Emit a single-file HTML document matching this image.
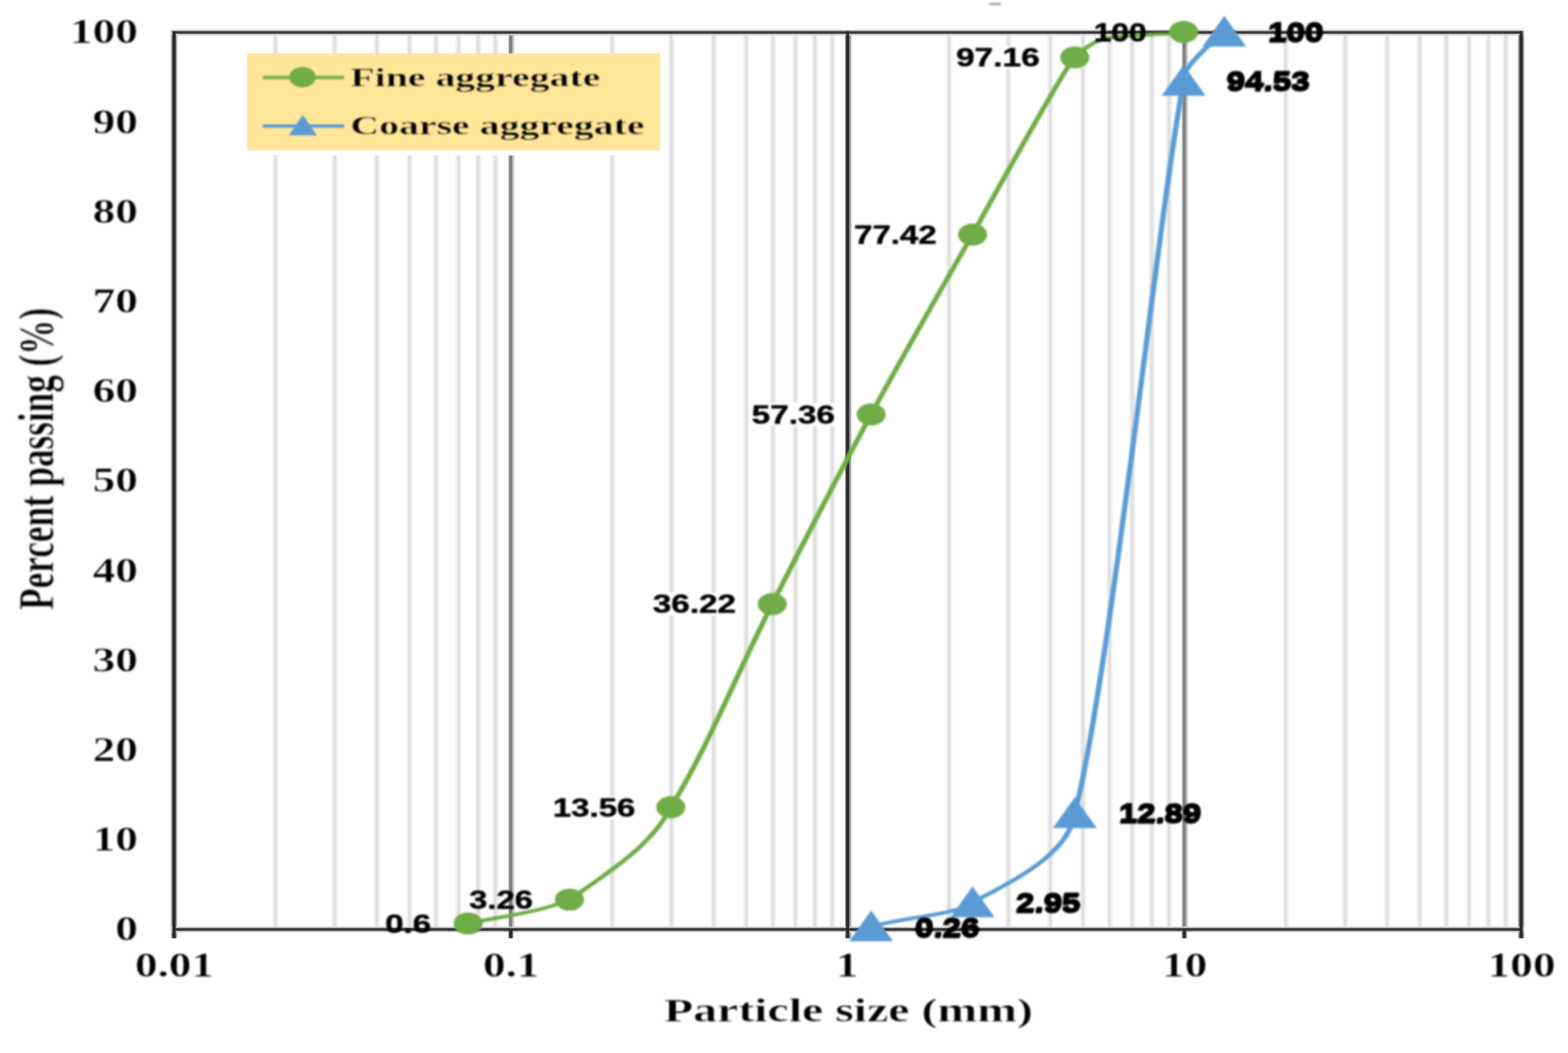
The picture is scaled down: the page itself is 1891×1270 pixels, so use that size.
<!DOCTYPE html>
<html lang="en"><head><meta charset="utf-8"><title>Particle size distribution</title>
<style>
html,body{margin:0;padding:0;background:#fff;}
body{width:1891px;height:1270px;overflow:hidden;position:relative;}
svg{display:block;position:absolute;left:0;top:0;}
.ser{font-family:"Liberation Serif","DejaVu Serif",serif;font-weight:bold;fill:#000;stroke:#fff;stroke-width:0.70px;vector-effect:non-scaling-stroke;}
.leg{stroke:#ffe699;stroke-width:0.8px;}
.san{font-family:"Liberation Sans","DejaVu Sans",sans-serif;font-weight:bold;fill:#000;stroke:#000;stroke-width:0.6px;vector-effect:non-scaling-stroke;}
.dbl{stroke-width:1.0px;}
</style></head><body>
<svg width="1891" height="1270" viewBox="0 0 1891 1270" role="img" aria-label="Particle size distribution chart">
<defs>
<filter id="bg" filterUnits="userSpaceOnUse" x="0" y="0" width="1891" height="1270" color-interpolation-filters="sRGB"><feGaussianBlur stdDeviation="0.55"/></filter>
<filter id="bi" filterUnits="userSpaceOnUse" x="0" y="0" width="1891" height="1270" color-interpolation-filters="sRGB"><feGaussianBlur stdDeviation="1.15"/></filter>
<filter id="bc" filterUnits="userSpaceOnUse" x="0" y="0" width="1891" height="1270" color-interpolation-filters="sRGB"><feGaussianBlur stdDeviation="0.40"/></filter>
<filter id="bd" filterUnits="userSpaceOnUse" x="0" y="0" width="1891" height="1270" color-interpolation-filters="sRGB"><feGaussianBlur stdDeviation="0.80"/></filter>
</defs>
<rect x="0" y="0" width="1891" height="1270" fill="#ffffff"/>
<g filter="url(#bg)">
<line x1="332.2" y1="39.2" x2="332.2" y2="1121.0" stroke="#f2f2f2" stroke-width="7.6"/>
<line x1="403.7" y1="39.2" x2="403.7" y2="1121.0" stroke="#f2f2f2" stroke-width="7.6"/>
<line x1="454.4" y1="39.2" x2="454.4" y2="1121.0" stroke="#f2f2f2" stroke-width="7.6"/>
<line x1="493.8" y1="39.2" x2="493.8" y2="1121.0" stroke="#f2f2f2" stroke-width="7.6"/>
<line x1="525.9" y1="39.2" x2="525.9" y2="1121.0" stroke="#f2f2f2" stroke-width="7.6"/>
<line x1="553.1" y1="39.2" x2="553.1" y2="1121.0" stroke="#f2f2f2" stroke-width="7.6"/>
<line x1="576.7" y1="39.2" x2="576.7" y2="1121.0" stroke="#f2f2f2" stroke-width="7.6"/>
<line x1="597.5" y1="39.2" x2="597.5" y2="1121.0" stroke="#f2f2f2" stroke-width="7.6"/>
<line x1="738.3" y1="39.2" x2="738.3" y2="1121.0" stroke="#f2f2f2" stroke-width="7.6"/>
<line x1="809.8" y1="39.2" x2="809.8" y2="1121.0" stroke="#f2f2f2" stroke-width="7.6"/>
<line x1="860.6" y1="39.2" x2="860.6" y2="1121.0" stroke="#f2f2f2" stroke-width="7.6"/>
<line x1="899.9" y1="39.2" x2="899.9" y2="1121.0" stroke="#f2f2f2" stroke-width="7.6"/>
<line x1="932.1" y1="39.2" x2="932.1" y2="1121.0" stroke="#f2f2f2" stroke-width="7.6"/>
<line x1="959.3" y1="39.2" x2="959.3" y2="1121.0" stroke="#f2f2f2" stroke-width="7.6"/>
<line x1="982.8" y1="39.2" x2="982.8" y2="1121.0" stroke="#f2f2f2" stroke-width="7.6"/>
<line x1="1003.6" y1="39.2" x2="1003.6" y2="1121.0" stroke="#f2f2f2" stroke-width="7.6"/>
<line x1="1144.5" y1="39.2" x2="1144.5" y2="1121.0" stroke="#f2f2f2" stroke-width="7.6"/>
<line x1="1216.0" y1="39.2" x2="1216.0" y2="1121.0" stroke="#f2f2f2" stroke-width="7.6"/>
<line x1="1266.7" y1="39.2" x2="1266.7" y2="1121.0" stroke="#f2f2f2" stroke-width="7.6"/>
<line x1="1306.1" y1="39.2" x2="1306.1" y2="1121.0" stroke="#f2f2f2" stroke-width="7.6"/>
<line x1="1338.2" y1="39.2" x2="1338.2" y2="1121.0" stroke="#f2f2f2" stroke-width="7.6"/>
<line x1="1365.4" y1="39.2" x2="1365.4" y2="1121.0" stroke="#f2f2f2" stroke-width="7.6"/>
<line x1="1389.0" y1="39.2" x2="1389.0" y2="1121.0" stroke="#f2f2f2" stroke-width="7.6"/>
<line x1="1409.8" y1="39.2" x2="1409.8" y2="1121.0" stroke="#f2f2f2" stroke-width="7.6"/>
<line x1="1550.6" y1="39.2" x2="1550.6" y2="1121.0" stroke="#f2f2f2" stroke-width="7.6"/>
<line x1="1622.1" y1="39.2" x2="1622.1" y2="1121.0" stroke="#f2f2f2" stroke-width="7.6"/>
<line x1="1672.9" y1="39.2" x2="1672.9" y2="1121.0" stroke="#f2f2f2" stroke-width="7.6"/>
<line x1="1712.2" y1="39.2" x2="1712.2" y2="1121.0" stroke="#f2f2f2" stroke-width="7.6"/>
<line x1="1744.4" y1="39.2" x2="1744.4" y2="1121.0" stroke="#f2f2f2" stroke-width="7.6"/>
<line x1="1771.6" y1="39.2" x2="1771.6" y2="1121.0" stroke="#f2f2f2" stroke-width="7.6"/>
<line x1="1795.1" y1="39.2" x2="1795.1" y2="1121.0" stroke="#f2f2f2" stroke-width="7.6"/>
<line x1="1815.9" y1="39.2" x2="1815.9" y2="1121.0" stroke="#f2f2f2" stroke-width="7.6"/>
<line x1="332.2" y1="39.2" x2="332.2" y2="1121.0" stroke="#e1e1e1" stroke-width="3.6"/>
<line x1="403.7" y1="39.2" x2="403.7" y2="1121.0" stroke="#e1e1e1" stroke-width="3.6"/>
<line x1="454.4" y1="39.2" x2="454.4" y2="1121.0" stroke="#e1e1e1" stroke-width="3.6"/>
<line x1="493.8" y1="39.2" x2="493.8" y2="1121.0" stroke="#e1e1e1" stroke-width="3.6"/>
<line x1="525.9" y1="39.2" x2="525.9" y2="1121.0" stroke="#e1e1e1" stroke-width="3.6"/>
<line x1="553.1" y1="39.2" x2="553.1" y2="1121.0" stroke="#e1e1e1" stroke-width="3.6"/>
<line x1="576.7" y1="39.2" x2="576.7" y2="1121.0" stroke="#e1e1e1" stroke-width="3.6"/>
<line x1="597.5" y1="39.2" x2="597.5" y2="1121.0" stroke="#e1e1e1" stroke-width="3.6"/>
<line x1="738.3" y1="39.2" x2="738.3" y2="1121.0" stroke="#e1e1e1" stroke-width="3.6"/>
<line x1="809.8" y1="39.2" x2="809.8" y2="1121.0" stroke="#e1e1e1" stroke-width="3.6"/>
<line x1="860.6" y1="39.2" x2="860.6" y2="1121.0" stroke="#e1e1e1" stroke-width="3.6"/>
<line x1="899.9" y1="39.2" x2="899.9" y2="1121.0" stroke="#e1e1e1" stroke-width="3.6"/>
<line x1="932.1" y1="39.2" x2="932.1" y2="1121.0" stroke="#e1e1e1" stroke-width="3.6"/>
<line x1="959.3" y1="39.2" x2="959.3" y2="1121.0" stroke="#e1e1e1" stroke-width="3.6"/>
<line x1="982.8" y1="39.2" x2="982.8" y2="1121.0" stroke="#e1e1e1" stroke-width="3.6"/>
<line x1="1003.6" y1="39.2" x2="1003.6" y2="1121.0" stroke="#e1e1e1" stroke-width="3.6"/>
<line x1="1144.5" y1="39.2" x2="1144.5" y2="1121.0" stroke="#e1e1e1" stroke-width="3.6"/>
<line x1="1216.0" y1="39.2" x2="1216.0" y2="1121.0" stroke="#e1e1e1" stroke-width="3.6"/>
<line x1="1266.7" y1="39.2" x2="1266.7" y2="1121.0" stroke="#e1e1e1" stroke-width="3.6"/>
<line x1="1306.1" y1="39.2" x2="1306.1" y2="1121.0" stroke="#e1e1e1" stroke-width="3.6"/>
<line x1="1338.2" y1="39.2" x2="1338.2" y2="1121.0" stroke="#e1e1e1" stroke-width="3.6"/>
<line x1="1365.4" y1="39.2" x2="1365.4" y2="1121.0" stroke="#e1e1e1" stroke-width="3.6"/>
<line x1="1389.0" y1="39.2" x2="1389.0" y2="1121.0" stroke="#e1e1e1" stroke-width="3.6"/>
<line x1="1409.8" y1="39.2" x2="1409.8" y2="1121.0" stroke="#e1e1e1" stroke-width="3.6"/>
<line x1="1550.6" y1="39.2" x2="1550.6" y2="1121.0" stroke="#e1e1e1" stroke-width="3.6"/>
<line x1="1622.1" y1="39.2" x2="1622.1" y2="1121.0" stroke="#e1e1e1" stroke-width="3.6"/>
<line x1="1672.9" y1="39.2" x2="1672.9" y2="1121.0" stroke="#e1e1e1" stroke-width="3.6"/>
<line x1="1712.2" y1="39.2" x2="1712.2" y2="1121.0" stroke="#e1e1e1" stroke-width="3.6"/>
<line x1="1744.4" y1="39.2" x2="1744.4" y2="1121.0" stroke="#e1e1e1" stroke-width="3.6"/>
<line x1="1771.6" y1="39.2" x2="1771.6" y2="1121.0" stroke="#e1e1e1" stroke-width="3.6"/>
<line x1="1795.1" y1="39.2" x2="1795.1" y2="1121.0" stroke="#e1e1e1" stroke-width="3.6"/>
<line x1="1815.9" y1="39.2" x2="1815.9" y2="1121.0" stroke="#e1e1e1" stroke-width="3.6"/>
<line x1="616.6" y1="39.2" x2="616.6" y2="1121.0" stroke="#c9c9c9" stroke-width="7.4"/>
<line x1="616.0" y1="39.2" x2="616.0" y2="1121.0" stroke="#878484" stroke-width="4.0"/>
<line x1="1428.9" y1="39.2" x2="1428.9" y2="1121.0" stroke="#c9c9c9" stroke-width="7.4"/>
<line x1="1428.3" y1="39.2" x2="1428.3" y2="1121.0" stroke="#878484" stroke-width="4.0"/>
<line x1="209.9" y1="36.7" x2="209.9" y2="1131.5" stroke="#9a9a9a" stroke-width="7.4"/>
<line x1="1022.8" y1="36.7" x2="1022.8" y2="1131.5" stroke="#9a9a9a" stroke-width="7.4"/>
<line x1="1834.5" y1="36.7" x2="1834.5" y2="1131.5" stroke="#9a9a9a" stroke-width="7.4"/>
<line x1="206.9" y1="39.2" x2="1837.5" y2="39.2" stroke="#cfcfcf" stroke-width="7.0"/>
<line x1="206.9" y1="1121.0" x2="1837.5" y2="1121.0" stroke="#cfcfcf" stroke-width="7.0"/>
<line x1="616.0" y1="1121.0" x2="616.0" y2="1131.5" stroke="#9a9a9a" stroke-width="6.4"/>
<line x1="1428.3" y1="1121.0" x2="1428.3" y2="1131.5" stroke="#9a9a9a" stroke-width="6.4"/>
<line x1="208.4" y1="39.2" x2="1836.0" y2="39.2" stroke="#3c3c3c" stroke-width="3.3"/>
<line x1="208.4" y1="1121.0" x2="1836.0" y2="1121.0" stroke="#3c3c3c" stroke-width="3.3"/>
<line x1="209.9" y1="37.7" x2="209.9" y2="1131.5" stroke="#2b2b2b" stroke-width="3.8"/>
<line x1="1022.2" y1="37.7" x2="1022.2" y2="1131.5" stroke="#2b2b2b" stroke-width="3.8"/>
<line x1="1834.5" y1="37.7" x2="1834.5" y2="1131.5" stroke="#2b2b2b" stroke-width="3.8"/>
<line x1="616.0" y1="1121.0" x2="616.0" y2="1131.5" stroke="#2b2b2b" stroke-width="3.8"/>
<line x1="1428.3" y1="1121.0" x2="1428.3" y2="1131.5" stroke="#2b2b2b" stroke-width="3.8"/>
<rect x="1193" y="3.2" width="14" height="3.2" fill="#adadad" filter="url(#bd)"/>
<rect x="297.8" y="181" width="498.4" height="6.5" fill="#ffffff"/>
<rect x="297.8" y="64.3" width="498.4" height="117" fill="#ffe699"/>
</g>
<g filter="url(#bi)">
<line x1="317" y1="93.5" x2="415" y2="93.5" stroke="#70ad47" stroke-width="4"/>
<ellipse cx="364.8" cy="93" rx="16" ry="12.3" fill="#70ad47"/>
<line x1="317" y1="152" x2="415" y2="152" stroke="#5b9bd5" stroke-width="4"/>
<polygon points="365.2,138.5 382,163.3 348.6,163.3" fill="#5b9bd5"/>
<text class="ser leg" transform="translate(422.5 103.5) scale(1.500 1)" font-size="32.0" text-anchor="start">Fine aggregate</text>
<text class="ser leg" transform="translate(422.5 161.5) scale(1.500 1)" font-size="32.0" text-anchor="start">Coarse aggregate</text>
<text class="ser" transform="translate(166.3 1134.2) scale(1.300 1)" font-size="42.0" text-anchor="end">0</text>
<text class="ser" transform="translate(166.3 1026.0) scale(1.300 1)" font-size="42.0" text-anchor="end">10</text>
<text class="ser" transform="translate(166.3 917.8) scale(1.300 1)" font-size="42.0" text-anchor="end">20</text>
<text class="ser" transform="translate(166.3 809.7) scale(1.300 1)" font-size="42.0" text-anchor="end">30</text>
<text class="ser" transform="translate(166.3 701.5) scale(1.300 1)" font-size="42.0" text-anchor="end">40</text>
<text class="ser" transform="translate(166.3 593.3) scale(1.300 1)" font-size="42.0" text-anchor="end">50</text>
<text class="ser" transform="translate(166.3 485.1) scale(1.300 1)" font-size="42.0" text-anchor="end">60</text>
<text class="ser" transform="translate(166.3 376.9) scale(1.300 1)" font-size="42.0" text-anchor="end">70</text>
<text class="ser" transform="translate(166.3 268.8) scale(1.300 1)" font-size="42.0" text-anchor="end">80</text>
<text class="ser" transform="translate(166.3 160.6) scale(1.300 1)" font-size="42.0" text-anchor="end">90</text>
<text class="ser" transform="translate(166.3 52.4) scale(1.300 1)" font-size="42.0" text-anchor="end">100</text>
<text class="ser" transform="translate(210.4 1178.4) scale(1.300 1)" font-size="42.0" text-anchor="middle">0.01</text>
<text class="ser" transform="translate(616.5 1178.4) scale(1.300 1)" font-size="42.0" text-anchor="middle">0.1</text>
<text class="ser" transform="translate(1021.7 1178.4) scale(1.300 1)" font-size="42.0" text-anchor="middle">1</text>
<text class="ser" transform="translate(1428.8 1178.4) scale(1.300 1)" font-size="42.0" text-anchor="middle">10</text>
<text class="ser" transform="translate(1835.0 1178.4) scale(1.300 1)" font-size="42.0" text-anchor="middle">100</text>
<text class="ser" transform="translate(1023.2 1231.5) scale(1.406 1)" font-size="41.0" text-anchor="middle">Particle size (mm)</text>
<text class="ser" transform="translate(64.5 553.4) scale(1.432 1) rotate(-90)" font-size="42.4" text-anchor="middle">Percent passing (%)</text>
<g filter="url(#bc)"><g transform="scale(1.450 1)" fill="none" stroke-width="4.4" stroke-linecap="round">
<path d="M389.31 1113.8 C417.18 1104.9 446.98 1101.5 473.63 1085.0 C505.29 1053.2 542.43 1019.1 557.95 973.6 C589.86 898.4 611.23 817.1 642.27 728.5 C670.04 649.5 696.78 574.1 724.55 499.8 C752.31 425.5 780.63 354.5 808.87 282.8 C834.34 216.2 887.59 77.0 893.96 69.2 C917.48 36.9 922.78 47.3 984.52 38.5" stroke="#70ad47"/>
<path d="M724.55 1117.5 C753.79 1106.0 796.59 1103.2 808.87 1088.4 C839.15 1064.9 888.66 1031.9 893.96 980.9 C923.23 815.7 963.80 254.7 984.52 97.7 C980.87 87.2 1001.43 58.7 1018.29 38.5" stroke="#5b9bd5"/>
</g></g>
<line x1="1336" y1="38.7" x2="1412" y2="38.7" stroke="#1f1f1f" stroke-width="2.8" opacity="0.5"/>
<g fill="#70ad47">
<ellipse cx="564.5" cy="1113.8" rx="17.5" ry="13.3"/>
<ellipse cx="686.8" cy="1085.0" rx="17.5" ry="13.3"/>
<ellipse cx="809.0" cy="973.6" rx="17.5" ry="13.3"/>
<ellipse cx="931.3" cy="728.5" rx="17.5" ry="13.3"/>
<ellipse cx="1050.6" cy="499.8" rx="17.5" ry="13.3"/>
<ellipse cx="1172.9" cy="282.8" rx="17.5" ry="13.3"/>
<ellipse cx="1296.2" cy="69.2" rx="17.5" ry="13.3"/>
<ellipse cx="1427.5" cy="38.5" rx="17.5" ry="13.3"/>
</g>
<g fill="#5b9bd5">
<polygon points="1050.6,1098.0 1077.1,1135.3 1024.1,1135.3"/>
<polygon points="1172.9,1068.9 1199.4,1106.2 1146.4,1106.2"/>
<polygon points="1296.2,961.4 1322.7,998.7 1269.7,998.7"/>
<polygon points="1427.5,78.2 1454.0,115.5 1401.0,115.5"/>
<polygon points="1476.5,19.0 1503.0,56.3 1450.0,56.3"/>
</g>
<rect x="665.2" y="960.7" width="102.5" height="27.5" fill="#fff"/>
<rect x="785.8" y="714.8" width="103.3" height="27.5" fill="#fff"/>
<rect x="905.1" y="486.2" width="103.3" height="27.5" fill="#fff"/>
<rect x="1028.5" y="269.3" width="102.6" height="27.5" fill="#fff"/>
<rect x="1151.4" y="55.5" width="104.0" height="27.5" fill="#fff"/>
<text class="san" transform="translate(464.4 1125.3) scale(1.288 1)" font-size="31.0" text-anchor="start">0.6</text>
<text class="san" transform="translate(565.8 1096.0) scale(1.274 1)" font-size="31.0" text-anchor="start">3.26</text>
<text class="san" transform="translate(666.7 985.2) scale(1.283 1)" font-size="31.0" text-anchor="start">13.56</text>
<text class="san" transform="translate(787.3 739.3) scale(1.293 1)" font-size="31.0" text-anchor="start">36.22</text>
<text class="san" transform="translate(906.6 510.7) scale(1.293 1)" font-size="31.0" text-anchor="start">57.36</text>
<text class="san" transform="translate(1030.0 293.8) scale(1.284 1)" font-size="31.0" text-anchor="start">77.42</text>
<text class="san" transform="translate(1152.9 80.0) scale(1.302 1)" font-size="31.0" text-anchor="start">97.16</text>
<text class="san" transform="translate(1319.0 50.3) scale(1.233 1)" font-size="31.0" text-anchor="start">100</text>
<text class="san dbl" transform="translate(1103.0 1130.5) scale(1.290 1)" font-size="31.0" text-anchor="start">0.26</text>
<text class="san dbl" transform="translate(1104.0 1128.5) scale(1.290 1)" font-size="31.0" text-anchor="start">0.26</text>
<text class="san dbl" transform="translate(1224.8 1101.1) scale(1.290 1)" font-size="31.0" text-anchor="start">2.95</text>
<text class="san dbl" transform="translate(1225.8 1099.1) scale(1.290 1)" font-size="31.0" text-anchor="start">2.95</text>
<text class="san dbl" transform="translate(1348.9 992.9) scale(1.280 1)" font-size="31.0" text-anchor="start">12.89</text>
<text class="san dbl" transform="translate(1349.9 990.9) scale(1.280 1)" font-size="31.0" text-anchor="start">12.89</text>
<text class="san dbl" transform="translate(1478.8 110.0) scale(1.291 1)" font-size="31.0" text-anchor="start">94.53</text>
<text class="san dbl" transform="translate(1479.8 108.0) scale(1.291 1)" font-size="31.0" text-anchor="start">94.53</text>
<text class="san dbl" transform="translate(1528.7 50.5) scale(1.294 1)" font-size="31.0" text-anchor="start">100</text>
<text class="san dbl" transform="translate(1529.7 48.5) scale(1.294 1)" font-size="31.0" text-anchor="start">100</text>
</g>
</svg>
</body></html>
